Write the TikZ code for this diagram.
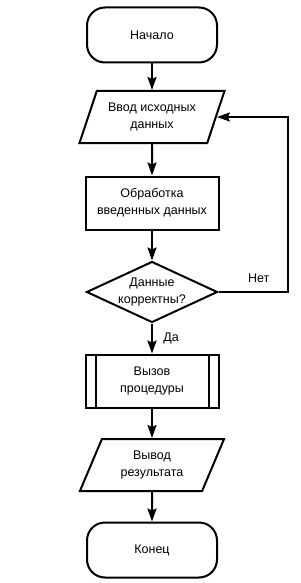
\documentclass[tikz,border=0pt]{standalone}
\usepackage{fontspec}
\setmainfont{Liberation Sans}
\usetikzlibrary{shapes.geometric,arrows.meta}

\begin{document}
\begin{tikzpicture}[x=1pt, y=-1pt, line width=2pt,
  every node/.style={font=\fontsize{12.5}{17}\selectfont, align=center},
  terminal/.style={draw, rounded corners=18pt, minimum width=130pt, minimum height=55pt},
  io/.style={draw, trapezium, trapezium left angle=64, trapezium right angle=116,
    trapezium stretches=true, minimum width=145pt, minimum height=52pt, inner sep=0pt},
  process/.style={draw, minimum width=133pt, minimum height=53pt},
  decision/.style={draw, diamond, aspect=2.15, inner sep=0pt, minimum width=131pt, minimum height=61pt},
  arr/.style={-{Stealth[length=13pt, width=9pt, inset=2pt]}}]
  \useasboundingbox (0,0) rectangle (300,583);

  \node[terminal] (start) at (152,35) {Начало};
  \node[io] (in) at (152,117) {Ввод исходных\\данных};
  \node[process] (proc) at (152,203) {Обработка\\введенных данных};
  \node[decision] (check) at (152,292) {Данные\\корректны?};
  \node[process] (call) at (152,381) {Вызов\\процедуры};
  \draw ([xshift=11pt]call.north west) -- ([xshift=11pt]call.south west);
  \draw ([xshift=-11pt]call.north east) -- ([xshift=-11pt]call.south east);
  \node[io] (out) at (152,465) {Вывод\\результата};
  \node[terminal] (stop) at (152,550) {Конец};

  \coordinate (loop) at (288,292);

  \draw[arr] (start) -- (in);
  \draw[arr] (in) -- (proc);
  \draw[arr] (proc) -- (check);
  \draw[arr] (check) -- node[right=7pt] {Да} (call);
  \draw[arr] (call) -- (out);
  \draw[arr] (out) -- (stop);

  \draw[arr] (check.east) -- node[pos=0.58, above=5pt] {Нет} (loop) |- (in.right side);
\end{tikzpicture}
\end{document}
